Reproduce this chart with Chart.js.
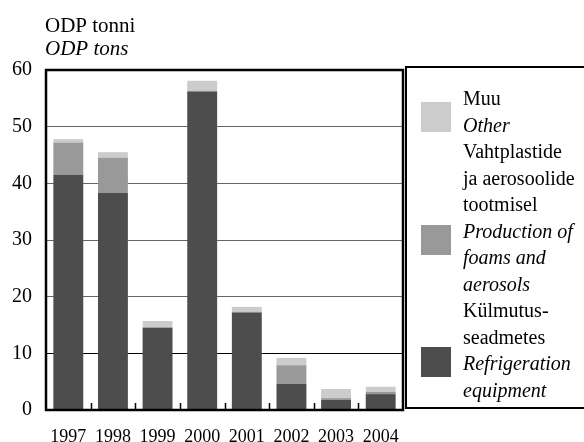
<!DOCTYPE html>
<html>
<head>
<meta charset="utf-8">
<script src="https://cdn.jsdelivr.net/npm/chart.js@4.4.0/dist/chart.umd.min.js"></script>
<style>
  html, body { margin: 0; padding: 0; background: #fff; }
  canvas { display: block; }
</style>
</head>
<body>
<canvas id="odp" width="584" height="442"></canvas>
<script>
// andmed / data
const years = ['1997', '1998', '1999', '2000', '2001', '2002', '2003', '2004'];
const refrigeration = [41.5, 38.3, 14.5, 56.2, 17.2, 4.6, 1.8, 2.8];
const foams = [5.7, 6.2, 0.1, 0.15, 0.15, 3.3, 0.3, 0.4];
const other = [0.6, 1.0, 1.1, 1.75, 0.85, 1.3, 1.6, 0.9];
const yTicks = [0, 10, 20, 30, 40, 50, 60];
const yTitle = ['ODP tonni', 'ODP tons'];

const legendOther = ['Muu', 'Other'];
const legendFoams = ['Vahtplastide', 'ja aerosoolide', 'tootmisel', 'Production of', 'foams and', 'aerosols'];
const legendRefr = ['Külmutus-', 'seadmetes', 'Refrigeration', 'equipment'];

const serif = '"Liberation Serif", "Times New Roman", serif';

const frame = {
    id: 'frame',
    afterDraw(chart) {
        const ctx = chart.ctx;
        const a = chart.chartArea;
        const x = chart.scales.x;
        ctx.save();
        ctx.fillStyle = '#000';
        ctx.strokeStyle = '#000';
        ctx.textAlign = 'left';
        ctx.textBaseline = 'alphabetic';

        // telje pealkiri
        ctx.font = '21px ' + serif;
        ctx.fillText(yTitle[0], 45, 32);
        ctx.font = 'italic 21px ' + serif;
        ctx.fillText(yTitle[1], 45, 55);

        // vahekriipsud aastate vahel
        ctx.lineWidth = 1.5;
        for (let i = 1; i < years.length; i++) {
            const px = Math.round((x.getPixelForValue(i - 1) + x.getPixelForValue(i)) / 2) + 0.5;
            ctx.beginPath();
            ctx.moveTo(px, a.bottom);
            ctx.lineTo(px, a.bottom - 7);
            ctx.stroke();
        }

        // joonise raam
        ctx.lineWidth = 2.5;
        ctx.strokeRect(a.left, a.top, a.right - a.left, a.bottom - a.top);

        // legend
        ctx.lineWidth = 2;
        ctx.strokeRect(406, 67, 200, 341);

        const ds = chart.data.datasets;
        const groups = [
            { lines: legendOther, italicFrom: 1, color: ds[2].backgroundColor, boxY: 102 },
            { lines: legendFoams, italicFrom: 3, color: ds[1].backgroundColor, boxY: 225 },
            { lines: legendRefr, italicFrom: 2, color: ds[0].backgroundColor, boxY: 347 }
        ];
        let row = 0;
        groups.forEach(g => {
            ctx.fillStyle = g.color;
            ctx.fillRect(421, g.boxY, 30, 30);
            ctx.fillStyle = '#000';
            g.lines.forEach((t, j) => {
                ctx.font = (j >= g.italicFrom ? 'italic ' : '') + '20px ' + serif;
                ctx.fillText(t, 463, 105.2 + 26.5 * row);
                row++;
            });
        });
        ctx.restore();
    }
};

const data = {
    labels: years,
    datasets: [
        { label: 'Refrigeration equipment', data: refrigeration, backgroundColor: '#4d4d4d' },
        { label: 'Production of foams and aerosols', data: foams, backgroundColor: '#999999' },
        { label: 'Other', data: other, backgroundColor: '#cccccc' }
    ]
};

const config = {
    type: 'bar',
    data: data,
    options: {
        responsive: false,
        animation: false,
        events: [],
        layout: { padding: { left: 0, top: 70, right: 181, bottom: 0 } },
        datasets: {
            bar: { barPercentage: 0.67, categoryPercentage: 1, borderWidth: 0 }
        },
        plugins: {
            legend: { display: false },
            tooltip: { enabled: false },
            title: { display: false }
        },
        scales: {
            x: {
                stacked: true,
                grid: { display: false },
                border: { display: false },
                ticks: {
                    color: '#000',
                    font: { family: serif, size: 18 },
                    padding: 8,
                    maxRotation: 0,
                    autoSkip: false
                },
                afterFit: s => { s.height = 32; }
            },
            y: {
                stacked: true,
                min: 0,
                max: 60,
                afterBuildTicks: s => { s.ticks = yTicks.map(v => ({ value: v })); },
                grid: {
                    drawTicks: false,
                    lineWidth: 1,
                    color: c => c.tick && c.tick.value === 10 ? '#000' : '#666'
                },
                border: { display: false },
                ticks: {
                    color: '#000',
                    font: { family: serif, size: 20 },
                    padding: 14
                },
                afterFit: s => { s.width = 46; }
            }
        }
    },
    plugins: [frame]
};

const odp = new Chart(document.getElementById('odp'), config);
</script>
</body>
</html>
